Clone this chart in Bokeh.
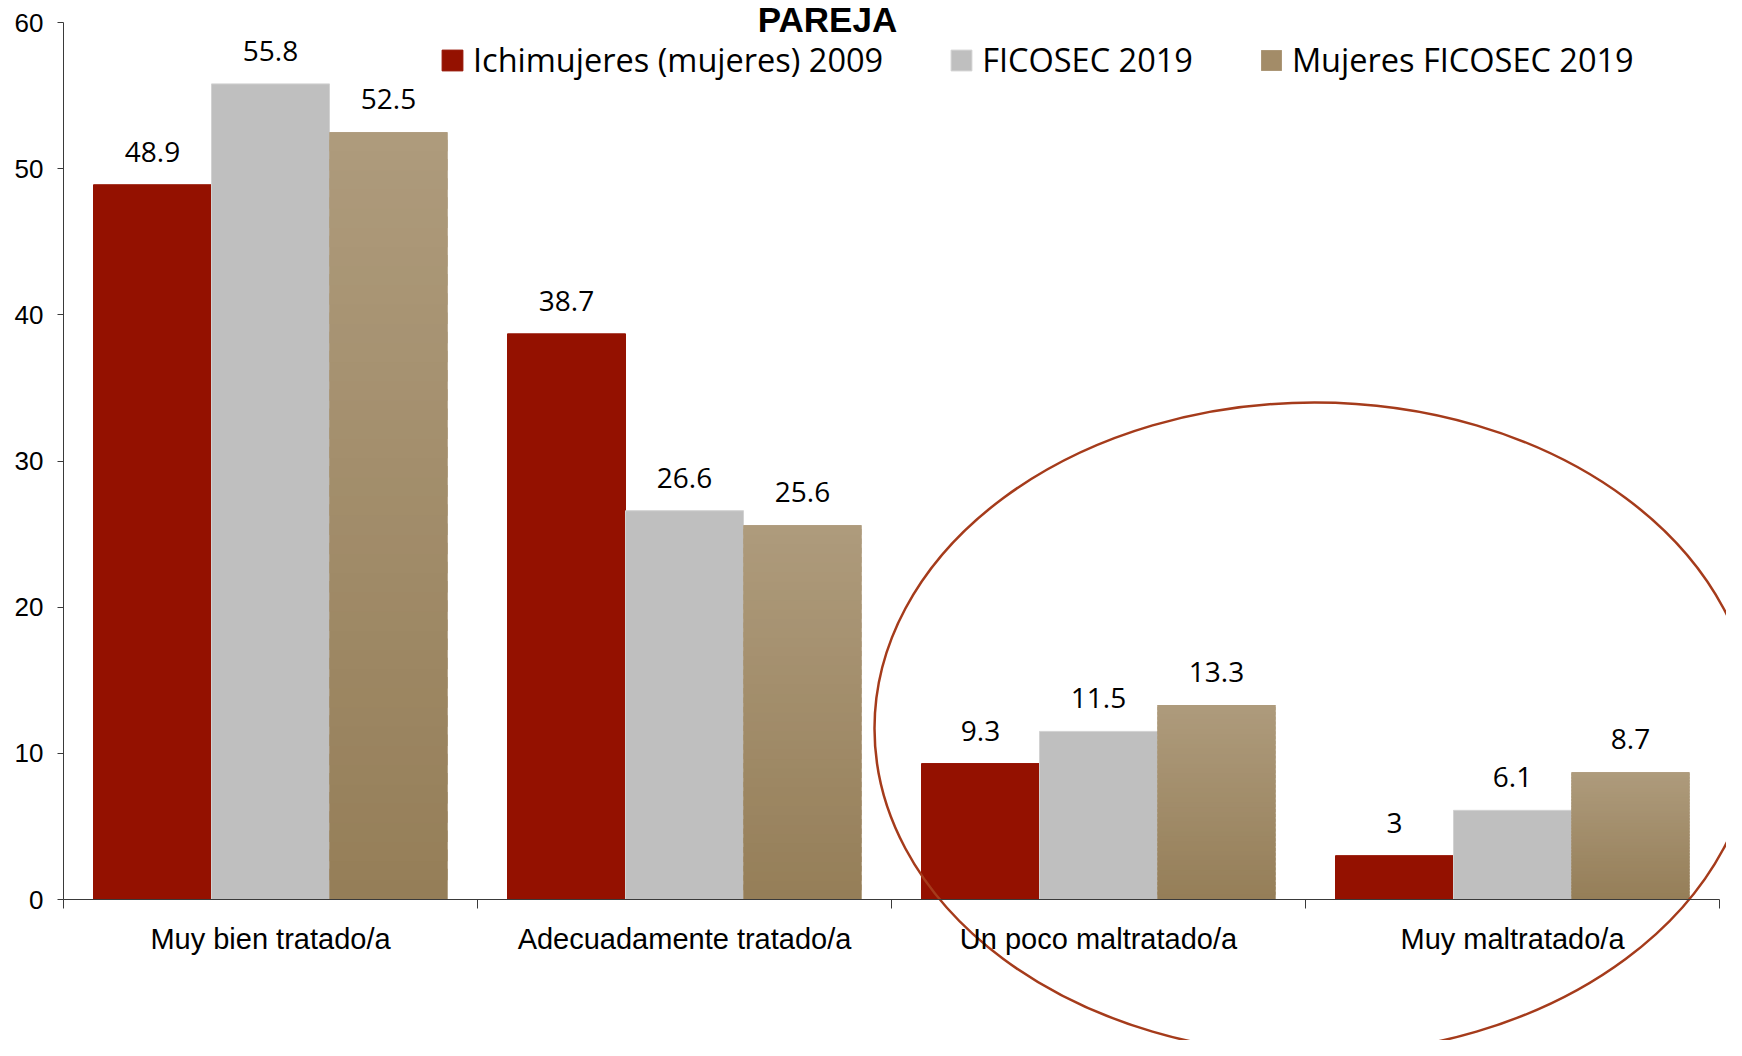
from bokeh.plotting import figure
from bokeh.models import (Range1d, LinearAxis, FixedTicker, Legend, LegendItem,
                          ColumnDataSource, Label)
from bokeh.core.properties import value
from bokeh.embed import file_html
from bokeh.resources import INLINE

# ---------------- data ----------------
categories = ["Muy bien tratado/a", "Adecuadamente tratado/a",
              "Un poco maltratado/a", "Muy maltratado/a"]
series_names = ["Ichimujeres (mujeres) 2009", "FICOSEC 2019", "Mujeres FICOSEC 2019"]
ichimujeres_2009 = [48.9, 38.7, 9.3, 3.0]
ficosec_2019 = [55.8, 26.6, 11.5, 6.1]
mujeres_ficosec_2019 = [52.5, 25.6, 13.3, 8.7]
y_ticks = [0, 10, 20, 30, 40, 50, 60]
title_text = "PAREJA"

# ---------------- layout ----------------
W, H = 1726, 1040
X0_PX = 63.0        # canvas x of first category boundary
UNIT_X = 414.0      # px per category
Y0_PX = 899.0       # canvas y of value 0
Y60_PX = 22.0       # canvas y of value 60
PPY = (Y0_PX - Y60_PX) / 60.0


def xd(px):   # canvas x -> data x
    return (px - X0_PX) / UNIT_X


def yd(py):   # canvas y -> data y
    return (Y0_PX - py) / PPY


x_range = Range1d(-X0_PX / UNIT_X, (W - X0_PX) / UNIT_X)
y_range = Range1d(-(H - Y0_PX) / PPY, 60 + Y60_PX / PPY)

p = figure(width=W, height=H, x_range=x_range, y_range=y_range,
           output_backend="svg", toolbar_location=None,
           x_axis_location=None, y_axis_location=None)
p.min_border = 0
p.min_border_left = p.min_border_right = p.min_border_top = p.min_border_bottom = 0
p.outline_line_color = None
p.grid.visible = False
p.background_fill_color = "white"
p.border_fill_color = "white"

AX_COL = "#3a3a3a"

yaxis = LinearAxis(fixed_location=0, bounds=(0, 60), ticker=FixedTicker(ticks=y_ticks),
                   major_tick_out=6, major_tick_in=0, minor_tick_out=0, minor_tick_in=0,
                   axis_line_color=AX_COL, major_tick_line_color=AX_COL,
                   major_label_text_font="Liberation Sans",
                   major_label_text_font_size="26px",
                   major_label_text_color="black", major_label_standoff=14)
p.add_layout(yaxis, "left")

n = len(categories)
bounds_ticks = list(range(n + 1))
xaxis_frame = LinearAxis(fixed_location=0, bounds=(0, n),
                         ticker=FixedTicker(ticks=bounds_ticks),
                         major_tick_out=9, major_tick_in=0,
                         minor_tick_out=0, minor_tick_in=0,
                         axis_line_color=AX_COL, major_tick_line_color=AX_COL,
                         major_label_overrides={t: "" for t in bounds_ticks})
p.add_layout(xaxis_frame, "below")

centers = [i + 0.5 for i in range(n)]
xaxis_labels = LinearAxis(fixed_location=0, ticker=FixedTicker(ticks=centers),
                          major_tick_out=0, major_tick_in=0,
                          minor_tick_out=0, minor_tick_in=0,
                          axis_line_color=None, major_tick_line_color=None,
                          major_label_overrides={c: cat for c, cat in zip(centers, categories)},
                          major_label_text_font="Liberation Sans",
                          major_label_text_font_size="29px",
                          major_label_text_color="black",
                          major_label_standoff=23)
p.add_layout(xaxis_labels, "below")

# ---------------- bars ----------------
BAR_W = 0.285
offsets = [-BAR_W, 0.0, BAR_W]
series = [ichimujeres_2009, ficosec_2019, mujeres_ficosec_2019]
fills = ["#941100", "#bfbfbf", "#a38c68"]
lines = ["#941100", "#d2d2d2", None]
renderers = []
for vals, off, fc, lc in zip(series, offsets, fills, lines):
    src = ColumnDataSource(dict(x=[c + off for c in centers], top=vals))
    r = p.vbar(x="x", top="top", width=BAR_W, source=src, fill_color=fc,
               line_color=lc, line_width=1)
    renderers.append(r)

# vertical gradient on the tan bars (light top, dark bottom)
TOP_C = (0xae, 0x9b, 0x7c)
BOT_C = (0x95, 0x7e, 0x58)
N_STRIPS = 40
gx, gb, gt, gc = [], [], [], []
for c, v in zip(centers, mujeres_ficosec_2019):
    for i in range(N_STRIPS):
        f = (i + 0.5) / N_STRIPS
        col = tuple(int(round(b + (t - b) * f)) for b, t in zip(BOT_C, TOP_C))
        gx.append(c + offsets[2])
        gb.append(v * i / N_STRIPS)
        gt.append(min(v, v * (i + 1.6) / N_STRIPS))
        gc.append("#%02x%02x%02x" % col)
p.vbar(x="x", bottom="b", top="t", width=BAR_W, fill_color="c", line_color=None,
       source=ColumnDataSource(dict(x=gx, b=gb, t=gt, c=gc)))

# value labels
lx, ly, lt = [], [], []
for vals, off in zip(series, offsets):
    for c, v in zip(centers, vals):
        lx.append(c + off)
        ly.append(v)
        lt.append(f"{v:g}")
p.text(x="x", y="y", text="t", source=ColumnDataSource(dict(x=lx, y=ly, t=lt)),
       text_align="center", text_baseline="alphabetic", y_offset=-33,
       text_font=value("Open Sans"), text_font_size="28px", text_color="black")

# highlight ellipse
p.ellipse(x=xd(1314), y=yd(728), width=880 / UNIT_X, height=652 / PPY,
          fill_color=None, line_color="#a53b1b", line_width=2.5)

# title
p.add_layout(Label(x=xd(827), y=yd(19), text=title_text, text_align="center",
                   text_baseline="alphabetic", text_font="Liberation Sans",
                   text_font_style="bold", text_font_size="35px", text_color="black"))

# legend
legend = Legend(items=[LegendItem(label=nm, renderers=[r]) for nm, r in zip(series_names, renderers)],
                orientation="horizontal", location=(439, 958),
                glyph_width=26, glyph_height=26, label_standoff=8, spacing=65,
                padding=0, margin=0, border_line_color=None,
                background_fill_alpha=0, label_text_font="Open Sans",
                label_text_font_size="32.5px", label_text_color="black")
p.add_layout(legend)

open("out.html", "w").write(file_html(p, INLINE))
